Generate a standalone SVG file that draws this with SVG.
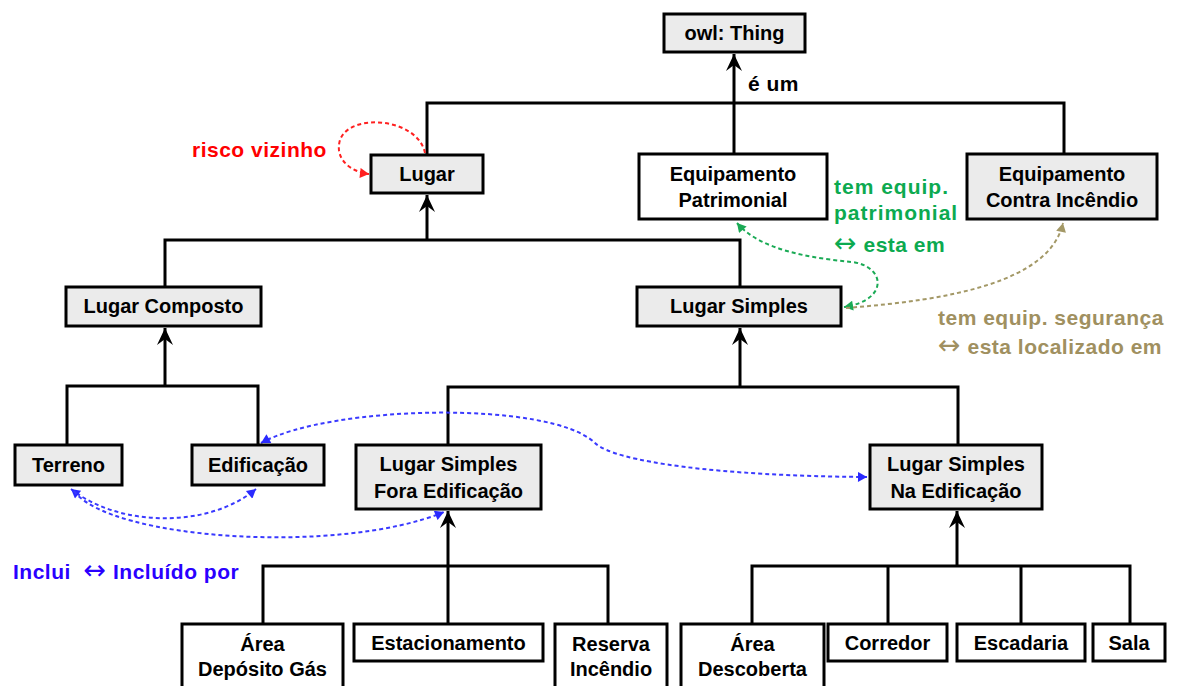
<svg xmlns="http://www.w3.org/2000/svg" width="1177" height="686" viewBox="0 0 1177 686">
<style>
.box{stroke:#000;stroke-width:3}
.g{fill:#ebebeb}
.w{fill:#fff}
.t{font-family:"Liberation Sans",Arial,sans-serif;font-weight:bold;font-size:20px;fill:#000;text-anchor:middle}
.lbl{font-family:"Liberation Sans",Arial,sans-serif;font-weight:bold;font-size:21px;letter-spacing:0.5px}
.arr{font-family:"DejaVu Sans",sans-serif;font-weight:normal;font-size:27px}
.h{fill:none;stroke:#000;stroke-width:3}
.d{fill:none;stroke-width:2;stroke-dasharray:4 3}
</style>
<defs>
<marker id="ah" viewBox="-19 -9 20 18" refX="0" refY="0" markerWidth="20" markerHeight="18" markerUnits="userSpaceOnUse" orient="auto">
<path d="M0,0 L-17,-8 L-11,0 L-17,8 Z" fill="#000"/>
</marker>
<marker id="ar" viewBox="-10 -5 11 10" refX="0" refY="0" markerWidth="11" markerHeight="10" markerUnits="userSpaceOnUse" orient="auto-start-reverse">
<path d="M0,0 L-9,-5 L-9,5 Z" fill="#ff2020"/>
</marker>
<marker id="ag" viewBox="-10 -5 11 10" refX="0" refY="0" markerWidth="11" markerHeight="10" markerUnits="userSpaceOnUse" orient="auto-start-reverse">
<path d="M0,0 L-9,-5 L-9,5 Z" fill="#1aaa55"/>
</marker>
<marker id="at" viewBox="-10 -5 11 10" refX="0" refY="0" markerWidth="11" markerHeight="10" markerUnits="userSpaceOnUse" orient="auto-start-reverse">
<path d="M0,0 L-9,-5 L-9,5 Z" fill="#a39866"/>
</marker>
<marker id="ab" viewBox="-10 -5 11 10" refX="0" refY="0" markerWidth="11" markerHeight="10" markerUnits="userSpaceOnUse" orient="auto-start-reverse">
<path d="M0,0 L-9,-5 L-9,5 Z" fill="#2a2aff"/>
</marker>
</defs>

<g id="connectors">
<line class="h" x1="734" y1="103" x2="734" y2="54" marker-end="url(#ah)"/>
<polyline class="h" points="427,155 427,103 1064,103 1064,154"/>
<line class="h" x1="734" y1="103" x2="734" y2="154"/>
<line class="h" x1="427" y1="240" x2="427" y2="195" marker-end="url(#ah)"/>
<polyline class="h" points="165,287 165,240 740,240 740,287"/>
<line class="h" x1="165" y1="386" x2="165" y2="328" marker-end="url(#ah)"/>
<polyline class="h" points="67,445 67,386 258,386 258,445"/>
<line class="h" x1="740" y1="387" x2="740" y2="328" marker-end="url(#ah)"/>
<polyline class="h" points="448,445 448,387 958,387 958,445"/>
<line class="h" x1="448" y1="566" x2="448" y2="511" marker-end="url(#ah)"/>
<polyline class="h" points="263,624 263,566 608,566 608,624"/>
<line class="h" x1="448" y1="566" x2="448" y2="624"/>
<line class="h" x1="957" y1="566" x2="957" y2="511" marker-end="url(#ah)"/>
<polyline class="h" points="752,624 752,566 1130,566 1130,624"/>
<line class="h" x1="888" y1="566" x2="888" y2="624"/>
<line class="h" x1="1021" y1="566" x2="1021" y2="624"/>
<text class="lbl" x="748" y="91" fill="#000">é um</text>

<path class="d" stroke="#ff2020" d="M425,153 C418,118 350,112 340,140 C334,160 352,172 369,174" marker-end="url(#ar)"/>
<text class="lbl" x="192" y="157" fill="#ff0000">risco vizinho</text>

<path class="d" stroke="#1aaa55" d="M737,223 C760,250 810,258 852,262 C885,266 890,300 844,307" marker-start="url(#ag)" marker-end="url(#ag)"/>
<text class="lbl" x="834" y="194" fill="#0caa50" style="letter-spacing:1px">tem equip.</text>
<text class="lbl" x="834" y="220" fill="#0caa50" style="letter-spacing:1px">patrimonial</text>
<text class="lbl" x="834" y="252" fill="#0caa50"><tspan class="arr">↔</tspan> esta em</text>

<path class="d" stroke="#a39866" d="M846,308 C950,300 1050,282 1063,223" marker-end="url(#at)"/>
<text class="lbl" x="938" y="325" fill="#a09060">tem equip. segurança</text>
<text class="lbl" x="938" y="354" fill="#a09060"><tspan class="arr">↔</tspan> esta localizado em</text>

<path class="d" stroke="#3a3aff" d="M261,443 C330,405 550,400 595,443 C615,462 720,476 867,477" marker-start="url(#ab)" marker-end="url(#ab)"/>
<path class="d" stroke="#3a3aff" d="M71,489 C120,528 210,528 256,489" marker-start="url(#ab)" marker-end="url(#ab)"/>
<path class="d" stroke="#3a3aff" d="M74,491 C110,540 340,555 444,512" marker-end="url(#ab)"/>
<text class="lbl" x="13" y="579" fill="#2a00ff" xml:space="preserve">Inclui  <tspan class="arr">↔</tspan> Incluído por</text>
</g>

<g id="owl-thing"><rect class="box g" x="664" y="14" width="141" height="38"/><text class="t" x="734.5" y="40">owl: Thing</text></g>
<g id="lugar"><rect class="box g" x="371" y="155" width="112" height="38"/><text class="t" x="427" y="181">Lugar</text></g>
<g id="equip-patrimonial"><rect class="box w" x="639" y="154" width="188" height="65"/><text class="t" x="733" y="181">Equipamento</text><text class="t" x="733" y="207">Patrimonial</text></g>
<g id="equip-incendio"><rect class="box g" x="967" y="154" width="190" height="65"/><text class="t" x="1062" y="181">Equipamento</text><text class="t" x="1062" y="207">Contra Incêndio</text></g>
<g id="lugar-composto"><rect class="box g" x="66" y="287" width="195" height="39"/><text class="t" x="163.5" y="313">Lugar Composto</text></g>
<g id="lugar-simples"><rect class="box g" x="637" y="287" width="204" height="39"/><text class="t" x="739" y="313">Lugar Simples</text></g>
<g id="terreno"><rect class="box g" x="15" y="445" width="107" height="40"/><text class="t" x="68.5" y="472">Terreno</text></g>
<g id="edificacao"><rect class="box g" x="192" y="445" width="132" height="40"/><text class="t" x="258" y="472">Edificação</text></g>
<g id="fora-edificacao"><rect class="box g" x="356" y="445" width="185" height="64"/><text class="t" x="448.5" y="471">Lugar Simples</text><text class="t" x="448.5" y="498">Fora Edificação</text></g>
<g id="na-edificacao"><rect class="box g" x="870" y="445" width="172" height="64"/><text class="t" x="956" y="471">Lugar Simples</text><text class="t" x="956" y="498">Na Edificação</text></g>
<g id="area-deposito"><rect class="box w" x="182" y="624" width="161" height="70"/><text class="t" x="262.5" y="651">Área</text><text class="t" x="262.5" y="676">Depósito Gás</text></g>
<g id="estacionamento"><rect class="box w" x="354" y="624" width="189" height="37"/><text class="t" x="448.5" y="650">Estacionamento</text></g>
<g id="reserva-incendio"><rect class="box w" x="555" y="624" width="112" height="70"/><text class="t" x="611" y="651">Reserva</text><text class="t" x="611" y="676">Incêndio</text></g>
<g id="area-descoberta"><rect class="box w" x="681" y="624" width="143" height="70"/><text class="t" x="752.5" y="651">Área</text><text class="t" x="752.5" y="676">Descoberta</text></g>
<g id="corredor"><rect class="box w" x="828" y="624" width="119" height="37"/><text class="t" x="887.5" y="650">Corredor</text></g>
<g id="escadaria"><rect class="box w" x="957" y="624" width="128" height="37"/><text class="t" x="1021" y="650">Escadaria</text></g>
<g id="sala"><rect class="box w" x="1093" y="624" width="72" height="37"/><text class="t" x="1129" y="650">Sala</text></g>
</svg>
